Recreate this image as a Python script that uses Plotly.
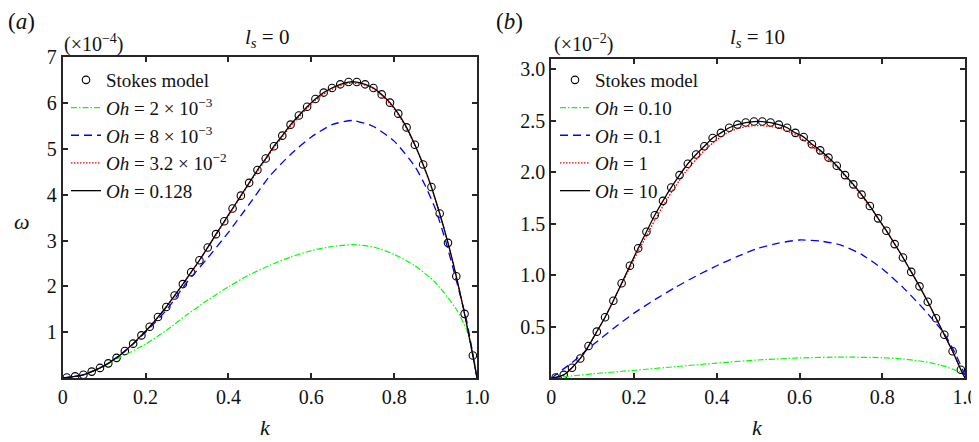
import plotly.graph_objects as go

# ---------------- data: panel (a), l_s = 0, omega in units of 1e-4 ----------------
stokes_a_k = [0.01, 0.03, 0.05, 0.07, 0.09, 0.11, 0.13, 0.15, 0.17, 0.19,
              0.21, 0.23, 0.25, 0.27, 0.29, 0.31, 0.33, 0.35, 0.37, 0.39,
              0.41, 0.43, 0.45, 0.47, 0.49, 0.51, 0.53, 0.55, 0.57, 0.59,
              0.61, 0.63, 0.65, 0.67, 0.69, 0.71, 0.73, 0.75, 0.77, 0.79,
              0.81, 0.83, 0.85, 0.87, 0.89, 0.91, 0.93, 0.95, 0.97, 0.99]
stokes_a_w = [0.01, 0.035, 0.07, 0.14, 0.22, 0.32, 0.44, 0.59, 0.75, 0.93,
              1.12, 1.33, 1.55, 1.80, 2.05, 2.31, 2.57, 2.85, 3.14, 3.42,
              3.70, 3.98, 4.26, 4.54, 4.79, 5.06, 5.29, 5.53, 5.73, 5.92,
              6.09, 6.23, 6.33, 6.41, 6.46, 6.46, 6.41, 6.33, 6.19, 6.01,
              5.77, 5.47, 5.09, 4.66, 4.17, 3.59, 2.95, 2.22, 1.40, 0.49]

line_a_k = [0.0] + stokes_a_k + [1.0]
oh0128_a_w = [0.0] + stokes_a_w + [0.0]
oh032_a_w = [0.0, 0.01, 0.035, 0.07, 0.14, 0.22, 0.32, 0.44, 0.59, 0.75, 0.93,
             1.12, 1.33, 1.55, 1.79, 2.04, 2.30, 2.56, 2.84, 3.12, 3.40,
             3.68, 3.96, 4.24, 4.51, 4.77, 5.03, 5.26, 5.50, 5.70, 5.89,
             6.06, 6.20, 6.30, 6.38, 6.43, 6.43, 6.39, 6.31, 6.17, 5.99,
             5.75, 5.45, 5.08, 4.65, 4.16, 3.58, 2.94, 2.21, 1.39, 0.48, 0.0]

oh008_a_k = [0.0, 0.05, 0.10, 0.15, 0.20, 0.25, 0.30, 0.35, 0.40, 0.45, 0.50,
             0.55, 0.60, 0.65, 0.70, 0.75, 0.80, 0.85, 0.875, 0.90, 0.925,
             0.95, 0.975, 1.0]
oh008_a_w = [0.0, 0.07, 0.27, 0.58, 1.00, 1.48, 2.09, 2.62, 3.18, 3.79, 4.41,
             4.88, 5.26, 5.53, 5.62, 5.49, 5.17, 4.62, 4.20, 3.68, 2.97,
             2.13, 1.25, 0.0]

oh002_a_k = [0.0, 0.05, 0.10, 0.13, 0.15, 0.20, 0.25, 0.30, 0.35, 0.40, 0.45,
             0.50, 0.55, 0.60, 0.65, 0.70, 0.75, 0.80, 0.85, 0.90, 0.95,
             0.975, 0.99, 1.0]
oh002_a_w = [0.0, 0.07, 0.26, 0.42, 0.50, 0.74, 1.04, 1.38, 1.70, 1.99, 2.25,
             2.46, 2.64, 2.78, 2.87, 2.91, 2.86, 2.70, 2.45, 2.08, 1.50,
             1.05, 0.56, 0.0]

# ---------------- data: panel (b), l_s = 10, omega in units of 1e-2 ----------------
stokes_b_k = stokes_a_k
stokes_b_w = [0.005, 0.03, 0.10, 0.19, 0.31, 0.45, 0.59, 0.75, 0.92, 1.09,
              1.26, 1.42, 1.58, 1.72, 1.85, 1.97, 2.08, 2.17, 2.25, 2.33,
              2.38, 2.43, 2.46, 2.48, 2.49, 2.49, 2.48, 2.46, 2.43, 2.38,
              2.34, 2.27, 2.21, 2.14, 2.06, 1.97, 1.88, 1.78, 1.67, 1.55,
              1.43, 1.30, 1.17, 1.03, 0.89, 0.74, 0.58, 0.42, 0.26, 0.08]

line_b_k = [0.0] + stokes_b_k + [1.0]
oh10_b_w = [0.0] + stokes_b_w + [0.0]
oh1_b_w = [0.0, 0.005, 0.03, 0.10, 0.19, 0.31, 0.45, 0.59, 0.75, 0.91, 1.07,
           1.23, 1.38, 1.53, 1.67, 1.80, 1.92, 2.03, 2.12, 2.21, 2.28,
           2.34, 2.39, 2.42, 2.44, 2.45, 2.45, 2.44, 2.43, 2.40, 2.36,
           2.31, 2.25, 2.19, 2.12, 2.05, 1.96, 1.87, 1.77, 1.66, 1.55,
           1.43, 1.30, 1.17, 1.03, 0.89, 0.74, 0.58, 0.42, 0.26, 0.08, 0.0]

oh01_b_k = [0.0, 0.05, 0.10, 0.15, 0.20, 0.25, 0.30, 0.35, 0.40, 0.45, 0.50,
            0.55, 0.60, 0.65, 0.70, 0.75, 0.80, 0.85, 0.90, 0.95, 0.975, 1.0]
oh01_b_w = [0.0, 0.15, 0.32, 0.48, 0.63, 0.76, 0.88, 0.99, 1.09, 1.18, 1.26,
            1.31, 1.34, 1.33, 1.29, 1.20, 1.06, 0.88, 0.67, 0.43, 0.25, 0.03]

oh010_b_k = [0.0, 0.05, 0.10, 0.20, 0.30, 0.40, 0.50, 0.60, 0.70, 0.80,
             0.85, 0.90, 0.95, 0.98, 1.0]
oh010_b_w = [0.0, 0.02, 0.04, 0.075, 0.11, 0.145, 0.175, 0.195, 0.203, 0.197,
             0.185, 0.16, 0.115, 0.07, 0.04]

# tick labels
x_ticks = [0, 0.2, 0.4, 0.6, 0.8, 1.0]
x_tick_text = ["0", "0.2", "0.4", "0.6", "0.8", "1.0"]
ya_ticks = [1, 2, 3, 4, 5, 6, 7]
yb_ticks = [0.5, 1.0, 1.5, 2.0, 2.5, 3.0]
yb_tick_text = ["0.5", "1.0", "1.5", "2.0", "2.5", "3.0"]

FONT = "Liberation Serif"
GREEN, BLUE, RED, BLACK = "#00ff00", "#0000ff", "#ff0000", "#000000"
DASHDOT = "6px,2px,1.5px,2px"
DASH = "8px,5px"
DOT = "1.5px,1.5px"

fig = go.Figure()

def add_panel(xa, ya, leg, st_k, st_w, curves):
    fig.add_trace(go.Scatter(x=st_k, y=st_w, mode="markers", name="Stokes model",
                             marker=dict(symbol="circle-open", size=7.5, color=BLACK,
                                         line=dict(width=1.1, color=BLACK)),
                             xaxis=xa, yaxis=ya, legend=leg))
    for k, w, name, color, dash, lw in curves:
        fig.add_trace(go.Scatter(x=k, y=w, mode="lines", name=name,
                                 line=dict(color=color, dash=dash, width=lw, shape="spline", smoothing=0.6),
                                 xaxis=xa, yaxis=ya, legend=leg))

add_panel("x", "y", "legend", stokes_a_k, stokes_a_w, [
    (oh002_a_k, oh002_a_w, "<i>Oh</i> = 2 × 10<sup>−3</sup>", GREEN, DASHDOT, 1.2),
    (oh008_a_k, oh008_a_w, "<i>Oh</i> = 8 × 10<sup>−3</sup>", BLUE, DASH, 1.3),
    (line_a_k, oh032_a_w, "<i>Oh</i> = 3.2 × 10<sup>−2</sup>", RED, DOT, 1.3),
    (line_a_k, oh0128_a_w, "<i>Oh</i> = 0.128", BLACK, "solid", 1.3),
])
add_panel("x2", "y2", "legend2", stokes_b_k, stokes_b_w, [
    (oh010_b_k, oh010_b_w, "<i>Oh</i> = 0.10", GREEN, DASHDOT, 1.2),
    (oh01_b_k, oh01_b_w, "<i>Oh</i> = 0.1", BLUE, DASH, 1.3),
    (line_b_k, oh1_b_w, "<i>Oh</i> = 1", RED, DOT, 1.3),
    (line_b_k, oh10_b_w, "<i>Oh</i> = 10", BLACK, "solid", 1.3),
])

# page has an 8px body margin; figure is sized so page pixels match the 979x442 window
OFF = 8
W, H = 979 - OFF, 442 - OFF
def px(x):
    return (x - OFF) / W
def py(y):
    return (H - (y - OFF)) / H

axis_common = dict(showline=True, mirror="ticks", linecolor="#262626", linewidth=2,
                   ticks="inside", ticklen=5, tickwidth=1.5, tickcolor="#262626",
                   showgrid=False, zeroline=False, automargin=False,
                   tickfont=dict(family=FONT, size=20, color="#111"))

legend_common = dict(bgcolor="rgba(0,0,0,0)", borderwidth=0, itemwidth=30,
                     font=dict(family=FONT, size=19, color="#111"),
                     xanchor="left", yanchor="top", tracegroupgap=0)

fig.update_layout(
    width=W, height=H, margin=dict(l=0, r=0, t=0, b=0, autoexpand=False),
    paper_bgcolor="white", plot_bgcolor="white", showlegend=True,
    font=dict(family=FONT, color="#111"),
    xaxis=dict(domain=[px(62.7), px(477)], range=[0, 1.0], tickvals=x_ticks, ticktext=x_tick_text,
               anchor="y", **axis_common),
    yaxis=dict(domain=[py(378), py(57.3)], range=[0, 7], tickvals=ya_ticks, anchor="x", **axis_common),
    xaxis2=dict(domain=[px(551.3), px(965)], range=[0, 1.0], tickvals=x_ticks, ticktext=x_tick_text,
                anchor="y2", **axis_common),
    yaxis2=dict(domain=[py(378), py(58.7)], range=[0, 3.1], tickvals=yb_ticks, ticktext=yb_tick_text,
                anchor="x2", **axis_common),
    legend=dict(x=px(66), y=py(61), **legend_common),
    legend2=dict(x=px(555), y=py(61), **legend_common),
)

def ann(text, x, y, size=20):
    fig.add_annotation(text=text, x=px(x), y=py(y), xref="paper", yref="paper",
                       showarrow=False, xanchor="center", yanchor="middle",
                       font=dict(family=FONT, size=size, color="#111"))

ann("(<i>a</i>)", 21, 22, size=23)
ann("(<i>b</i>)", 509, 22, size=23)
ann("(×10<sup>−4</sup>)", 94, 43, size=20)
ann("(×10<sup>−2</sup>)", 584, 43, size=20)
ann("<i>l</i><sub><i>s</i></sub> = 0", 267, 38, size=21)
ann("<i>l</i><sub><i>s</i></sub> = 10", 757, 38, size=21)
ann("<i>ω</i>", 22, 221, size=22)
ann("<i>k</i>", 265, 427, size=22)
ann("<i>k</i>", 757, 427, size=22)

fig.write_html("out.html")
